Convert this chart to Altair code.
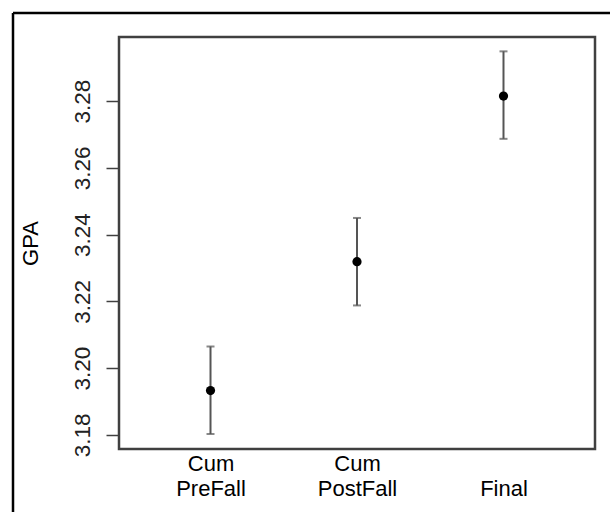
import altair as alt
import pandas as pd

# Mean GPA with error bars for three grade-point measures
groups = ["Cum\nPreFall", "Cum\nPostFall", "Final"]
means = [3.1933, 3.2319, 3.2815]
lower = [3.1803, 3.2188, 3.2687]
upper = [3.2065, 3.2450, 3.2949]
y_ticks = [3.18, 3.20, 3.22, 3.24, 3.26, 3.28]

df = pd.DataFrame({"group": groups, "gpa": means, "lo": lower, "hi": upper})

FONT = "Liberation Sans"
BOX = "#404040"

# single-line labels sit on the second line, like the two-line ones
label_expr = (
    "length(split(datum.label, '\\n')) == 1 ? ['', datum.label] "
    ": split(datum.label, '\\n')"
)

x_enc = alt.X(
    "group:N",
    sort=groups,
    scale=alt.Scale(type="point", padding=0.6246),
    axis=alt.Axis(
        title=None,
        ticks=False,
        tickSize=0,
        domain=False,
        labelAngle=0,
        labelExpr=label_expr,
        labelFont=FONT,
        labelFontSize=22,
        labelLineHeight=25.5,
        labelColor="black",
        labelBaseline="top",
        labelPadding=4,
    ),
)

y_scale = alt.Scale(domain=[3.1758, 3.2992], nice=False, zero=False)
y_axis = alt.Axis(
    title="GPA",
    values=y_ticks,
    format=".2f",
    grid=False,
    domain=False,
    tickSize=13,
    tickWidth=1.5,
    tickColor=BOX,
    labelAngle=270,
    labelAlign="center",
    labelBaseline="alphabetic",
    labelPadding=17,
    labelFont=FONT,
    labelFontSize=22.5,
    labelColor="#222222",
    titleFont=FONT,
    titleFontSize=22,
    titleFontWeight="normal",
    titleColor="black",
    titleAngle=270,
    titleAlign="center",
    titleBaseline="alphabetic",
    titleX=-82,
    titleY=206,
)

base = alt.Chart(df)

bars = base.mark_rule(color="#555555", strokeWidth=2).encode(
    x=x_enc,
    y=alt.Y("lo:Q", scale=y_scale, axis=y_axis),
    y2="hi:Q",
)
caps_hi = base.mark_tick(color="#555555", thickness=2, size=8).encode(
    x=alt.X("group:N", sort=groups), y=alt.Y("hi:Q")
)
caps_lo = base.mark_tick(color="#555555", thickness=2, size=8).encode(
    x=alt.X("group:N", sort=groups), y=alt.Y("lo:Q")
)
points = base.mark_point(filled=True, color="black", opacity=1, size=85).encode(
    x=alt.X("group:N", sort=groups), y=alt.Y("gpa:Q")
)

# outer figure frame (left and top edges)
frame_df = pd.DataFrame({"k": [0]})
frame_left = alt.Chart(frame_df).mark_rule(color="black", strokeWidth=2.5).encode(
    x=alt.value(-106), y=alt.value(-24), y2=alt.value(480)
)
frame_top = alt.Chart(frame_df).mark_rule(color="black", strokeWidth=2.5).encode(
    y=alt.value(-24), x=alt.value(-106), x2=alt.value(500)
)

chart = (
    alt.layer(bars, caps_hi, caps_lo, points, frame_left, frame_top)
    .properties(
        width=476,
        height=412,
        autosize=alt.AutoSizeParams(type="none"),
        padding={"left": 119, "top": 37, "right": 15, "bottom": 63},
        background="white",
    )
    .configure_view(stroke=BOX, strokeWidth=2.5)
)

chart.save("out.html", embed_options={"renderer": "svg", "actions": False})
